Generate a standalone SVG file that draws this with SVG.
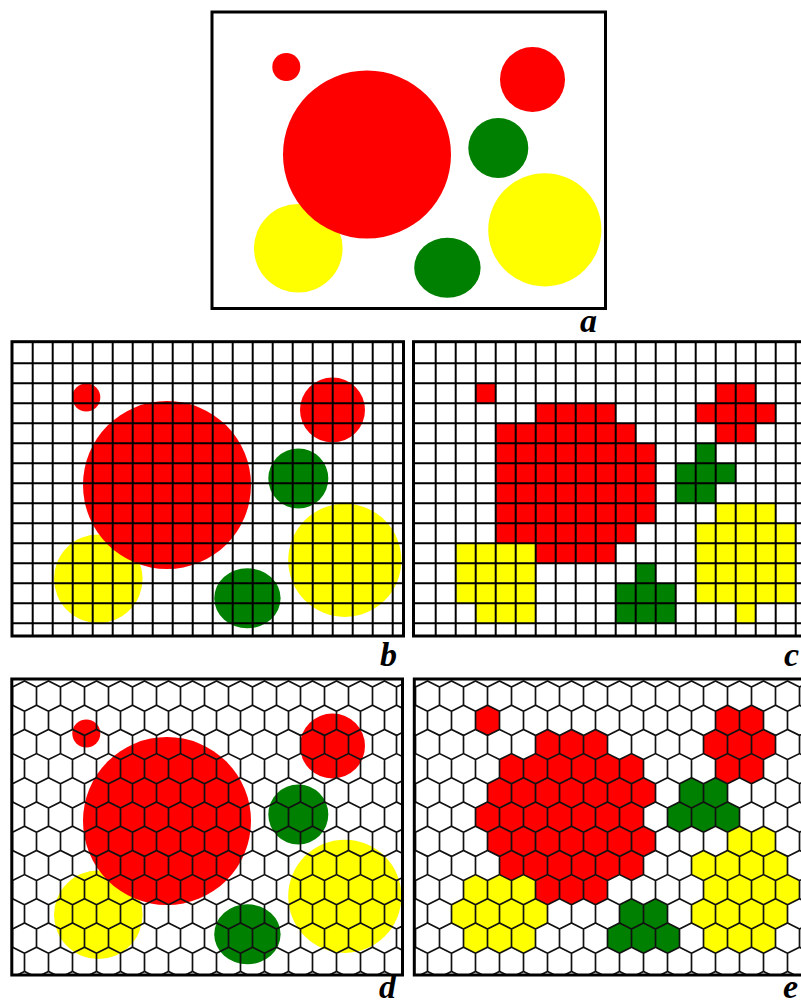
<svg xmlns="http://www.w3.org/2000/svg" xmlns:xlink="http://www.w3.org/1999/xlink" width="801" height="1006" viewBox="0 0 801 1006">
<style>
.r{fill:#ff0000}.g{fill:#008000}.y{fill:#ffff00}
.frame{fill:none;stroke:#000;stroke-width:3}
.sq{fill:none;stroke:#000;stroke-width:2}
.hx{fill:none;stroke:#111;stroke-width:1.7}
.lbl{font-family:"Liberation Serif","Times New Roman",serif;font-weight:bold;font-style:italic;font-size:34px;fill:#000}
</style>
<defs>
<g id="circles">
<circle class="y" cx="298.3" cy="248.3" r="44.3"/>
<circle class="r" cx="367" cy="154.5" r="84"/>
<circle class="r" cx="286.3" cy="67" r="14"/>
<circle class="r" cx="532.5" cy="79.5" r="32.5"/>
<circle class="g" cx="498.3" cy="148" r="30"/>
<circle class="y" cx="544.8" cy="229.8" r="56.6"/>
<ellipse class="g" cx="447.4" cy="267.8" rx="33.2" ry="30"/>
</g>
<path id="sqgrid" class="sq" d="M32.7 341v296m20-296v296m20-296v296m20-296v296m20-296v296m20-296v296m20-296v296m20-296v296m20-296v296m20-296v296m20-296v296m20-296v296m20-296v296m20-296v296m20-296v296m20-296v296m20-296v296m20-296v296m20-296v296M12 363.3h393m-393 20h393m-393 20h393m-393 20h393m-393 20h393m-393 20h393m-393 20h393m-393 20h393m-393 20h393m-393 20h393m-393 20h393m-393 20h393m-393 20h393m-393 20h393"/>
<path id="hrow" class="hx" d="M-24 6v18.2m0-18.2l12-6 12 6v18.2m0-18.2l12-6 12 6v18.2m0-18.2l12-6 12 6v18.2m0-18.2l12-6 12 6v18.2m0-18.2l12-6 12 6v18.2m0-18.2l12-6 12 6v18.2m0-18.2l12-6 12 6v18.2m0-18.2l12-6 12 6v18.2m0-18.2l12-6 12 6v18.2m0-18.2l12-6 12 6v18.2m0-18.2l12-6 12 6v18.2m0-18.2l12-6 12 6v18.2m0-18.2l12-6 12 6v18.2m0-18.2l12-6 12 6v18.2m0-18.2l12-6 12 6v18.2m0-18.2l12-6 12 6v18.2m0-18.2l12-6 12 6v18.2m0-18.2l12-6 12 6v18.2"/>
<g id="hgrid">
<use href="#hrow" transform="translate(12.5,681)"/>
<use href="#hrow" transform="translate(24.5,705.2)"/>
<use href="#hrow" transform="translate(12.5,729.4)"/>
<use href="#hrow" transform="translate(24.5,753.6)"/>
<use href="#hrow" transform="translate(12.5,777.8)"/>
<use href="#hrow" transform="translate(24.5,802)"/>
<use href="#hrow" transform="translate(12.5,826.2)"/>
<use href="#hrow" transform="translate(24.5,850.4)"/>
<use href="#hrow" transform="translate(12.5,874.6)"/>
<use href="#hrow" transform="translate(24.5,898.8)"/>
<use href="#hrow" transform="translate(12.5,923)"/>
<use href="#hrow" transform="translate(24.5,947.2)"/>
<use href="#hrow" transform="translate(12.5,971.4)"/>
</g>
<polygon id="hex" points="0,-15.1 12,-9.1 12,9.1 0,15.1 -12,9.1 -12,-9.1"/>
<clipPath id="clipB"><rect x="12" y="341.7" width="391.5" height="294.3"/></clipPath>
<clipPath id="clipC"><rect x="413.5" y="341.7" width="400" height="294.3"/></clipPath>
<clipPath id="clipD"><rect x="11.8" y="679" width="390.7" height="296"/></clipPath>
<clipPath id="clipE"><rect x="414.3" y="679" width="400" height="296"/></clipPath>
</defs>
<rect width="801" height="1006" fill="#fff"/>

<g id="panel-a">
<use href="#circles"/>
<rect class="frame" x="212" y="12" width="393.5" height="296.5"/>
<text class="lbl" x="580" y="332">a</text>
</g>

<g id="panel-b">
<g clip-path="url(#clipB)">
<use href="#circles" transform="translate(-200,330.5)"/>
<use href="#sqgrid"/>
</g>
<rect class="frame" x="12" y="341.7" width="391.5" height="294.3"/>
<text class="lbl" x="380" y="666">b</text>
</g>

<g id="panel-c">
<g clip-path="url(#clipC)">
<g transform="translate(415.7,343.3)">
<g class="r">
<rect x="60" y="40" width="20" height="20"/>
<rect x="300" y="40" width="40" height="20"/>
<rect x="120" y="60" width="80" height="20"/>
<rect x="280" y="60" width="80" height="20"/>
<rect x="80" y="80" width="140" height="20"/>
<rect x="300" y="80" width="40" height="20"/>
<rect x="80" y="100" width="160" height="80"/>
<rect x="80" y="180" width="140" height="20"/>
<rect x="120" y="200" width="80" height="20"/>
</g>
<g class="g">
<rect x="280" y="100" width="20" height="20"/>
<rect x="260" y="120" width="60" height="20"/>
<rect x="260" y="140" width="40" height="20"/>
<rect x="220" y="220" width="20" height="20"/>
<rect x="200" y="240" width="60" height="40"/>
</g>
<g class="y">
<rect x="300" y="160" width="60" height="20"/>
<rect x="280" y="180" width="100" height="80"/>
<rect x="320" y="260" width="20" height="20"/>
<rect x="40" y="200" width="80" height="60"/>
<rect x="60" y="260" width="60" height="20"/>
</g>
</g>
<use href="#sqgrid" transform="translate(403,0)"/>
</g>
<rect class="frame" x="413.5" y="341.7" width="400" height="294.3"/>
<text class="lbl" x="784" y="666">c</text>
</g>

<g id="panel-d">
<g clip-path="url(#clipD)">
<use href="#circles" transform="translate(-200,666.5)"/>
<use href="#hgrid"/>
</g>
<rect class="frame" x="11.8" y="679" width="390.7" height="296"/>
<text class="lbl" x="379" y="998">d</text>
</g>

<g id="panel-e">
<g clip-path="url(#clipE)">
<g class="r">
<use href="#hex" x="487.5" y="720.3"/><use href="#hex" x="727.5" y="720.3"/><use href="#hex" x="751.5" y="720.3"/>
<use href="#hex" x="547.5" y="744.5"/><use href="#hex" x="571.5" y="744.5"/><use href="#hex" x="595.5" y="744.5"/>
<use href="#hex" x="715.5" y="744.5"/><use href="#hex" x="739.5" y="744.5"/><use href="#hex" x="763.5" y="744.5"/>
<use href="#hex" x="511.5" y="768.7"/><use href="#hex" x="535.5" y="768.7"/><use href="#hex" x="559.5" y="768.7"/><use href="#hex" x="583.5" y="768.7"/><use href="#hex" x="607.5" y="768.7"/><use href="#hex" x="631.5" y="768.7"/>
<use href="#hex" x="727.5" y="768.7"/><use href="#hex" x="751.5" y="768.7"/>
<use href="#hex" x="499.5" y="792.9"/><use href="#hex" x="523.5" y="792.9"/><use href="#hex" x="547.5" y="792.9"/><use href="#hex" x="571.5" y="792.9"/><use href="#hex" x="595.5" y="792.9"/><use href="#hex" x="619.5" y="792.9"/><use href="#hex" x="643.5" y="792.9"/>
<use href="#hex" x="487.5" y="817.1"/><use href="#hex" x="511.5" y="817.1"/><use href="#hex" x="535.5" y="817.1"/><use href="#hex" x="559.5" y="817.1"/><use href="#hex" x="583.5" y="817.1"/><use href="#hex" x="607.5" y="817.1"/><use href="#hex" x="631.5" y="817.1"/>
<use href="#hex" x="499.5" y="841.3"/><use href="#hex" x="523.5" y="841.3"/><use href="#hex" x="547.5" y="841.3"/><use href="#hex" x="571.5" y="841.3"/><use href="#hex" x="595.5" y="841.3"/><use href="#hex" x="619.5" y="841.3"/><use href="#hex" x="643.5" y="841.3"/>
<use href="#hex" x="511.5" y="865.5"/><use href="#hex" x="535.5" y="865.5"/><use href="#hex" x="559.5" y="865.5"/><use href="#hex" x="583.5" y="865.5"/><use href="#hex" x="607.5" y="865.5"/><use href="#hex" x="631.5" y="865.5"/>
<use href="#hex" x="547.5" y="889.7"/><use href="#hex" x="571.5" y="889.7"/><use href="#hex" x="595.5" y="889.7"/>
</g>
<g class="g">
<use href="#hex" x="691.5" y="792.9"/><use href="#hex" x="715.5" y="792.9"/>
<use href="#hex" x="679.5" y="817.1"/><use href="#hex" x="703.5" y="817.1"/><use href="#hex" x="727.5" y="817.1"/>
<use href="#hex" x="631.5" y="913.9"/><use href="#hex" x="655.5" y="913.9"/>
<use href="#hex" x="619.5" y="938.1"/><use href="#hex" x="643.5" y="938.1"/><use href="#hex" x="667.5" y="938.1"/>
</g>
<g class="y">
<use href="#hex" x="739.5" y="841.3"/><use href="#hex" x="763.5" y="841.3"/>
<use href="#hex" x="703.5" y="865.5"/><use href="#hex" x="727.5" y="865.5"/><use href="#hex" x="751.5" y="865.5"/><use href="#hex" x="775.5" y="865.5"/>
<use href="#hex" x="475.5" y="889.7"/><use href="#hex" x="499.5" y="889.7"/><use href="#hex" x="523.5" y="889.7"/>
<use href="#hex" x="715.5" y="889.7"/><use href="#hex" x="739.5" y="889.7"/><use href="#hex" x="763.5" y="889.7"/><use href="#hex" x="787.5" y="889.7"/>
<use href="#hex" x="463.5" y="913.9"/><use href="#hex" x="487.5" y="913.9"/><use href="#hex" x="511.5" y="913.9"/><use href="#hex" x="535.5" y="913.9"/>
<use href="#hex" x="703.5" y="913.9"/><use href="#hex" x="727.5" y="913.9"/><use href="#hex" x="751.5" y="913.9"/><use href="#hex" x="775.5" y="913.9"/>
<use href="#hex" x="475.5" y="938.1"/><use href="#hex" x="499.5" y="938.1"/><use href="#hex" x="523.5" y="938.1"/>
<use href="#hex" x="715.5" y="938.1"/><use href="#hex" x="739.5" y="938.1"/><use href="#hex" x="763.5" y="938.1"/>
</g>
<use href="#hgrid" transform="translate(403,0)"/>
</g>
<rect class="frame" x="414.3" y="679" width="400" height="296"/>
<text class="lbl" x="783" y="998">e</text>
</g>
</svg>
